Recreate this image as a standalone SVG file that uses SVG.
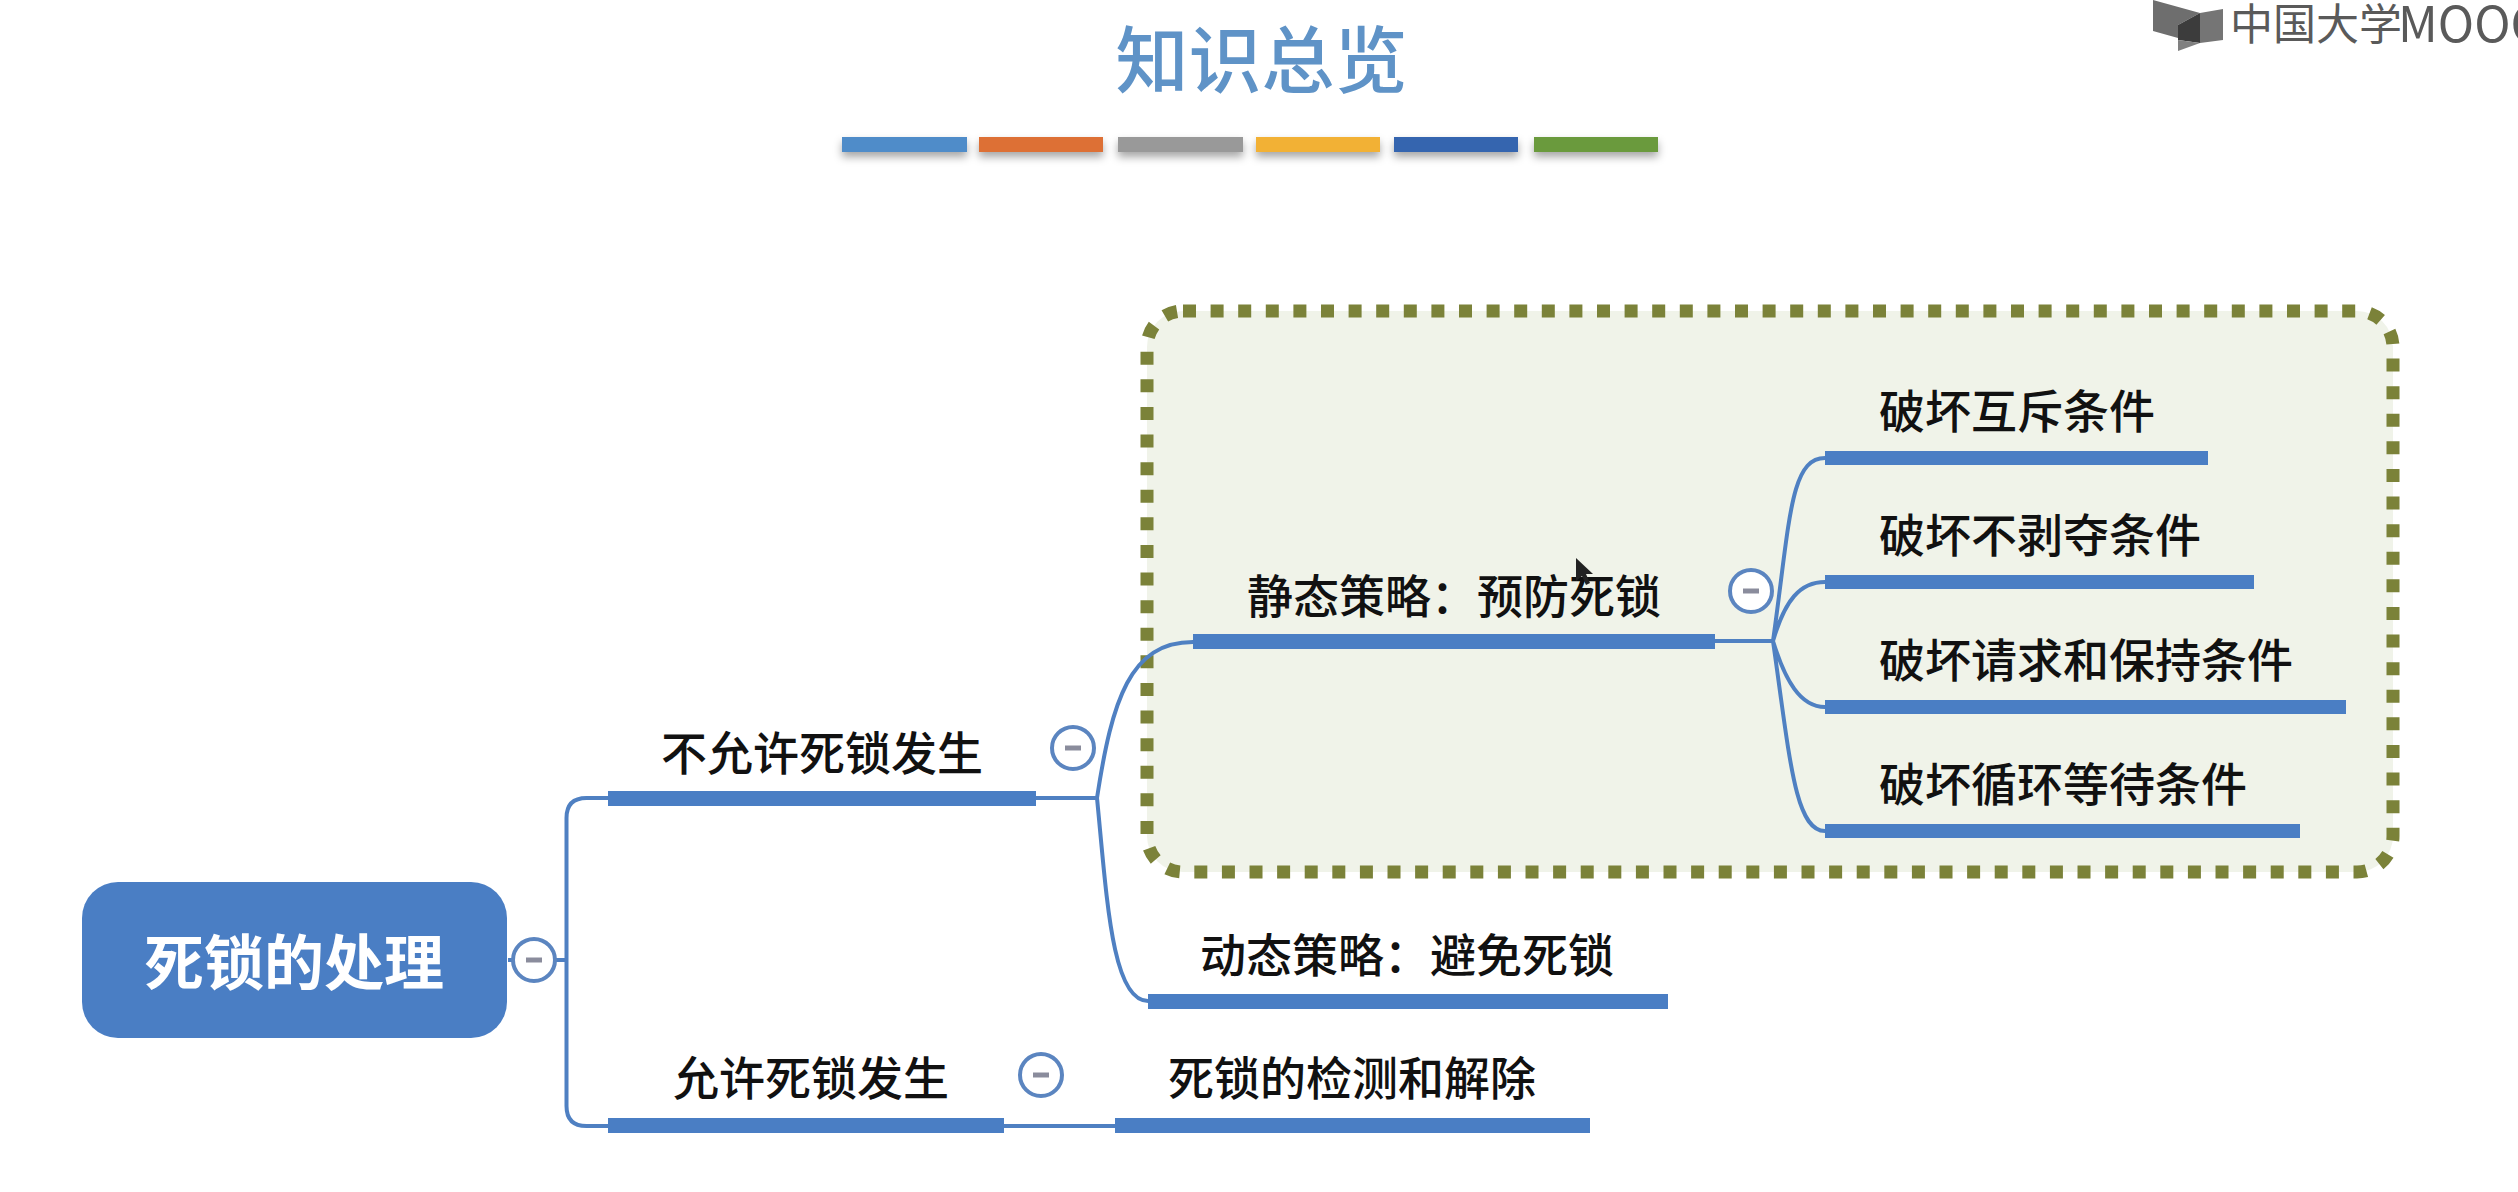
<svg xmlns="http://www.w3.org/2000/svg" width="2518" height="1192" viewBox="0 0 2518 1192">
<defs>
<filter id="sh" x="-10%" y="-50%" width="120%" height="250%"><feDropShadow dx="0" dy="5" stdDeviation="4" flood-color="#000" flood-opacity="0.35"/></filter>
</defs>
<style>
text{font-family:"Noto Sans CJK SC","Noto Sans",sans-serif}
.t{font-size:46px;fill:#111;font-weight:500}
.bar{fill:#4a7ec4}
.ln{fill:none;stroke:#4f80c2;stroke-width:4}
.tg{fill:#fff;stroke:#5b85c0;stroke-width:4}
.mn{stroke:#8a8c9c;stroke-width:5;fill:none}
.dec{filter:url(#sh)}
</style>
<rect width="2518" height="1192" fill="#fff"/>
<g id="header">
<text x="1261.5" y="87" text-anchor="middle" font-size="73" font-weight="500" fill="#5f93c7">知识总览</text>
<rect class="dec" x="842" y="137" width="125" height="15" fill="#4f8cc9"/>
<rect class="dec" x="979" y="137" width="124" height="15" fill="#dd6f36"/>
<rect class="dec" x="1118" y="137" width="125" height="15" fill="#999999"/>
<rect class="dec" x="1256" y="137" width="124" height="15" fill="#f2b134"/>
<rect class="dec" x="1394" y="137" width="124" height="15" fill="#3465af"/>
<rect class="dec" x="1534" y="137" width="124" height="15" fill="#6b9a3d"/>
</g>
<g id="logo">
<polygon points="2153,0 2200,13 2178,25 2178,38 2153,31" fill="#6e6e6e"/>
<polygon points="2200,13 2223,9 2223,40 2200,43" fill="#757575"/>
<polygon points="2200,13 2178,25 2178,40 2200,43" fill="#3c3c3c"/>
<polygon points="2178,40 2200,43 2178,51 2178,57" fill="#808080"/>
<text x="2230" y="40" font-size="43" fill="#5a5a5a">中国大学<tspan x="2398" y="42" font-size="49">MOOC</tspan></text>
</g>
<g id="focus-box">
<rect x="1147" y="311" width="1246" height="561" rx="36" fill="#f0f3e9" stroke="#7b8239" stroke-width="13" stroke-dasharray="13 14.6"/>
</g>
<g id="connectors">
<path class="ln" d="M508 960H566.5M608 798H586.5Q566.5 798 566.5 818V1106Q566.5 1126 586.5 1126H608"/>
<path class="ln" d="M1036 798H1097M1097 798C1112 700 1130 642 1193 642M1097 798C1107 900 1112 1001 1148 1001"/>
<path class="ln" d="M1004 1126H1115"/>
<path class="ln" d="M1715 641H1773M1773 641C1790 520 1790 458 1825 458M1773 641C1785 600 1800 582 1825 582M1773 641C1785 680 1800 707 1825 707M1773 641C1790 760 1795 831 1825 831"/>
</g>
<g id="root">
<rect x="82" y="882" width="425" height="156" rx="36" fill="#4a7ec4"/>
<text x="294" y="985" text-anchor="middle" font-size="60" font-weight="700" fill="#fff">死锁的处理</text>
<circle class="tg" cx="534" cy="960" r="21"/><path class="mn" d="M526 960H542"/>
</g>
<g id="n-forbid">
<text class="t" x="661" y="770">不允许死锁发生</text>
<rect class="bar" x="608" y="791" width="428" height="15"/>
<circle class="tg" cx="1073" cy="748" r="21"/><path class="mn" d="M1065 748H1081"/>
</g>
<g id="n-allow">
<text class="t" x="673" y="1095">允许死锁发生</text>
<rect class="bar" x="608" y="1118" width="396" height="15"/>
<circle class="tg" cx="1041" cy="1075" r="21"/><path class="mn" d="M1033 1075H1049"/>
</g>
<g id="n-detect">
<text class="t" x="1168" y="1095">死锁的检测和解除</text>
<rect class="bar" x="1115" y="1118" width="475" height="15"/>
</g>
<g id="n-static">
<text class="t" x="1247" y="613">静态策略：预防死锁</text>
<rect class="bar" x="1193" y="634" width="522" height="15"/>
<circle class="tg" cx="1751" cy="591" r="21"/><path class="mn" d="M1743 591H1759"/>
</g>
<g id="n-dynamic">
<text class="t" x="1200" y="972">动态策略：避免死锁</text>
<rect class="bar" x="1148" y="994" width="520" height="15"/>
</g>
<g id="n-c1">
<text class="t" x="1879" y="428">破坏互斥条件</text>
<rect class="bar" x="1825" y="451" width="383" height="14"/>
</g>
<g id="n-c2">
<text class="t" x="1879" y="552">破坏不剥夺条件</text>
<rect class="bar" x="1825" y="575" width="429" height="14"/>
</g>
<g id="n-c3">
<text class="t" x="1879" y="677">破坏请求和保持条件</text>
<rect class="bar" x="1825" y="700" width="521" height="14"/>
</g>
<g id="n-c4">
<text class="t" x="1879" y="801">破坏循环等待条件</text>
<rect class="bar" x="1825" y="824" width="475" height="14"/>
</g>
<polygon id="cursor" points="1576,558 1576,581 1582,576 1586,585 1590,583 1586,574 1593,574" fill="#222"/>
</svg>
